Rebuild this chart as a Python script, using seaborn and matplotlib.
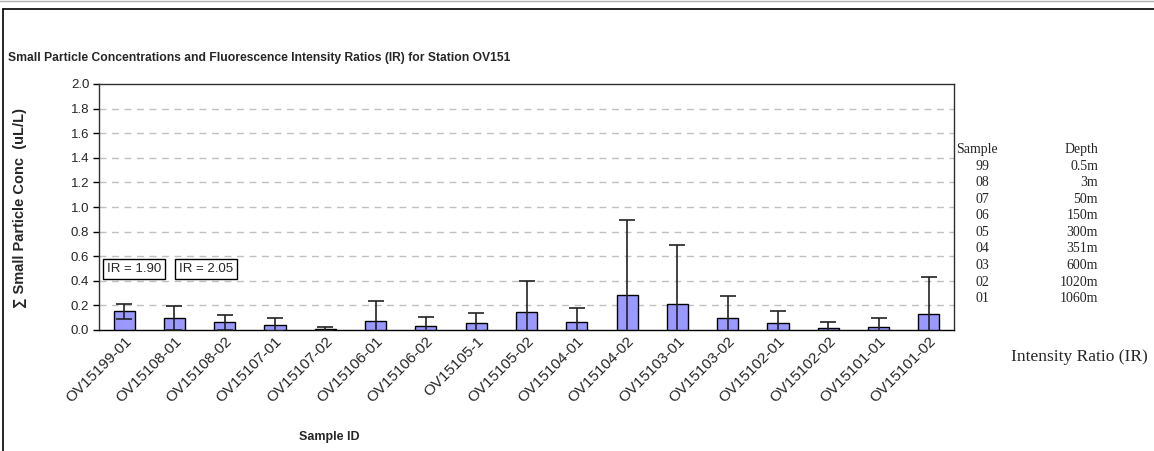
import numpy as np
import pandas as pd
import seaborn as sns
import matplotlib.pyplot as plt
from matplotlib.lines import Line2D

# sample ids, mean concentration and upper error bar end
samples = ['OV15199-01', 'OV15108-01', 'OV15108-02', 'OV15107-01', 'OV15107-02',
           'OV15106-01', 'OV15106-02', 'OV15105-1', 'OV15105-02', 'OV15104-01',
           'OV15104-02', 'OV15103-01', 'OV15103-02', 'OV15102-01', 'OV15102-02',
           'OV15101-01', 'OV15101-02']
conc = [0.152, 0.098, 0.062, 0.044, 0.008, 0.071, 0.035, 0.054, 0.144, 0.063,
        0.285, 0.213, 0.095, 0.054, 0.016, 0.024, 0.133]
err_top = [0.215, 0.196, 0.122, 0.098, 0.021, 0.239, 0.103, 0.141, 0.400, 0.177,
           0.893, 0.687, 0.275, 0.152, 0.063, 0.098, 0.430]
err = [t - c for t, c in zip(err_top, conc)]

ir_labels = ['IR = 1.90', 'IR = 2.05']

key_sample = ['99', '08', '07', '06', '05', '04', '03', '02', '01']
key_depth = ['0.5m', '3m', '50m', '150m', '300m', '351m', '600m', '1020m', '1060m']

sns.set_style('white')
plt.rcParams['font.family'] = ['Liberation Sans', 'DejaVu Sans']

W, H = 1154, 451
fig = plt.figure(figsize=(W / 100, H / 100), dpi=100)
ax = fig.add_axes([99 / W, 1 - 330 / H, (954 - 99) / W, (330 - 84) / H])

df = pd.DataFrame({'sample': samples, 'conc': conc})
sns.barplot(data=df, x='sample', y='conc', color='#9999FF', saturation=1,
            width=0.42, edgecolor='black', linewidth=1.0, ax=ax, zorder=3)
ax.errorbar(np.arange(len(samples)), conc, yerr=err, fmt='none', ecolor='#222222',
            elinewidth=1.2, capsize=5.5, capthick=1.2, zorder=4)

ax.set_ylim(0, 2.0)
ax.set_xlim(-0.5, len(samples) - 0.5)
ax.set_yticks(np.arange(0, 2.01, 0.2))
ax.set_yticklabels(['%.1f' % v for v in np.arange(0, 2.01, 0.2)], fontsize=9.5)
for v in np.arange(0.2, 1.81, 0.2):
    ax.axhline(v, color='#c0c0c0', lw=1, ls=(0, (5, 4)), zorder=1)

ax.set_xticks(np.arange(len(samples)))
ax.set_xticklabels(samples, rotation=45, ha='right', rotation_mode='anchor', fontsize=11)
ax.set_xticks(np.arange(-0.5, len(samples)), minor=True)
ax.tick_params(axis='x', which='major', length=0, pad=3)
ax.tick_params(axis='x', which='minor', length=4, width=1, color='black', direction='out')
ax.tick_params(axis='y', length=4, width=1, color='black', direction='out', pad=3, left=True)
for s in ax.spines.values():
    s.set_visible(True)
    s.set_color('#303030')
    s.set_linewidth(1)
ax.spines['bottom'].set_color('black')

ax.set_xlabel('')
ax.set_ylabel('')
fig.text(20 / W, 1 - 208 / H, '\u2211 Small Particle Conc  (uL/L)', fontsize=10.5,
         fontweight='bold', rotation=90, ha='center', va='center')

# IR boxes
for lab, x0 in zip(ir_labels, [101, 173]):
    fig.text((x0 + 33) / W, 1 - 269 / H, lab, fontsize=9.5, ha='center', va='center',
             bbox=dict(boxstyle='square,pad=0.3', fc='white', ec='black', lw=1))

fig.text(8 / W, 1 - 58 / H,
         'Small Particle Concentrations and Fluorescence Intensity Ratios (IR) for Station OV151',
         fontsize=8.7, fontweight='bold', ha='left', va='center')
fig.text(329 / W, 1 - 437 / H, 'Sample ID', fontsize=9, fontweight='bold',
         ha='center', va='center')

# depth key on the right
serif = ['Liberation Serif', 'DejaVu Serif']
fig.text(956 / W, 1 - 150 / H, 'Sample', fontsize=10, family=serif, ha='left', va='center')
fig.text(1098 / W, 1 - 150 / H, 'Depth', fontsize=10, family=serif, ha='right', va='center')
for i, (s, d) in enumerate(zip(key_sample, key_depth)):
    y = 166 + i * 16.6
    fig.text(975 / W, 1 - y / H, s, fontsize=10, family=serif, ha='left', va='center')
    fig.text(1098 / W, 1 - y / H, d, fontsize=10, family=serif, ha='right', va='center')
fig.text(1079 / W, 1 - 357 / H, 'Intensity Ratio (IR)', fontsize=12.5, family=serif,
         ha='center', va='center')

# outer frame
fig.add_artist(Line2D([3 / W, 3 / W], [0, 1 - 9 / H], color='black', lw=1.2))
fig.add_artist(Line2D([3 / W, 1], [1 - 9 / H, 1 - 9 / H], color='black', lw=1.2))
fig.add_artist(Line2D([0, 1], [1 - 0.5 / H, 1 - 0.5 / H], color='#b0b0b0', lw=1))

fig.savefig('out.png', dpi=100)
